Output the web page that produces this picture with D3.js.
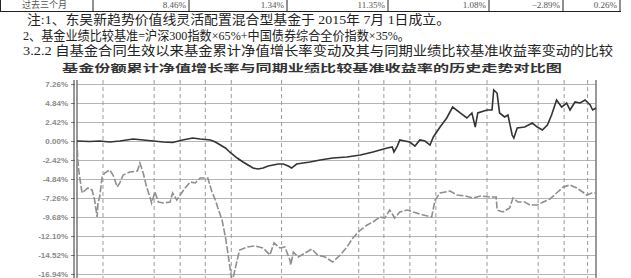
<!DOCTYPE html>
<html>
<head>
<meta charset="utf-8">
<script src="https://cdn.jsdelivr.net/npm/d3@7"></script>
<style>
  body { margin:0; background:#fff; }
  svg { display:block; }
  .note { font-family:"Liberation Serif","Noto Sans CJK SC",serif; fill:#222; }
  .cell { font-family:"Liberation Serif","Noto Sans CJK SC",serif; font-size:9px; fill:#555; }
</style>
</head>
<body>
<div id="chart"></div>
<script>
// table row and notes
var rowLabel = "过去三个月"
var rowValues = ["8.46%", "1.34%", "11.35%", "1.08%", "−2.89%", "0.26%"]
var noteLines = [
  "注:1、东吴新趋势价值线灵活配置混合型基金于 2015年 7月 1日成立。",
  "2、基金业绩比较基准=沪深300指数×65%+中国债券综合全价指数×35%。",
  "3.2.2 自基金合同生效以来基金累计净值增长率变动及其与同期业绩比较基准收益率变动的比较"
]
var title = "基金份额累计净值增长率与同期业绩比较基准收益率的历史走势对比图"

// axis
var yTicks = [7.26, 4.84, 2.42, 0, -2.42, -4.84, -7.26, -9.68, -12.10, -14.52, -16.94]
var gridDates = ["2015-08-01","2015-10-01","2015-11-01","2015-12-01","2016-01-01","2016-03-01",
  "2016-06-01","2016-07-01","2016-08-01","2016-09-01","2016-11-01","2017-01-01","2017-02-01","2017-03-01"]

// fund cumulative NAV growth (%)
var fundDates = ["2015-07-01","2015-07-16","2015-07-28","2015-08-09","2015-08-21","2015-09-06","2015-09-18",
  "2015-09-30","2015-10-12","2015-10-23","2015-11-04","2015-11-16","2015-11-25","2015-12-01","2015-12-07",
  "2015-12-13","2015-12-19","2015-12-25","2015-12-30","2016-01-08","2016-01-15","2016-01-21","2016-01-27",
  "2016-02-02","2016-02-08","2016-02-14","2016-02-20","2016-02-26","2016-03-03","2016-03-09","2016-03-13",
  "2016-03-19","2016-03-27","2016-04-04","2016-04-16","2016-05-01","2016-05-18","2016-06-03","2016-06-18",
  "2016-07-05","2016-07-11","2016-07-13","2016-07-17","2016-07-20","2016-07-26","2016-08-01","2016-08-07",
  "2016-08-13","2016-08-19","2016-08-25","2016-08-29","2016-09-06","2016-09-14","2016-09-21","2016-09-30",
  "2016-10-08","2016-10-14","2016-10-18","2016-10-21","2016-11-01","2016-11-07","2016-11-09","2016-11-13",
  "2016-11-16","2016-11-22","2016-11-26","2016-12-01","2016-12-03","2016-12-07","2016-12-16","2016-12-25",
  "2016-12-31","2017-01-06","2017-01-12","2017-01-17","2017-01-23","2017-01-29","2017-02-04","2017-02-08",
  "2017-02-14","2017-02-20","2017-02-26","2017-03-04","2017-03-07","2017-03-11"]
var fundValues = [0.00,-0.06,0.00,-0.13,0.00,0.25,0.13,
  0.00,-0.13,-0.19,0.13,0.38,0.25,0.19,0.13,
  -0.13,-0.51,-0.89,-1.40,-2.17,-2.67,-3.06,-3.44,
  -3.57,-3.44,-3.18,-3.06,-2.93,-2.93,-3.18,-3.44,
  -2.93,-2.80,-2.67,-2.42,-2.17,-2.04,-1.78,-1.40,
  -0.89,-0.76,-1.40,-0.64,0.13,0.00,-0.13,-0.64,
  0.13,0.00,-0.51,0.51,1.78,2.93,4.33,3.57,
  2.93,3.57,1.78,3.57,3.95,3.95,6.50,6.11,
  3.57,3.06,3.31,0.76,0.38,1.66,1.78,2.29,
  1.78,1.40,2.04,3.31,5.22,4.33,4.84,3.95,
  4.97,4.84,5.22,4.59,3.95,4.20]

// benchmark return (%)
var benchDates = ["2015-07-01","2015-07-02","2015-07-03","2015-07-07","2015-07-11","2015-07-14","2015-07-19",
  "2015-07-22","2015-07-25","2015-07-26","2015-07-28","2015-07-31","2015-08-03","2015-08-09","2015-08-13",
  "2015-08-18","2015-08-21","2015-08-25","2015-09-02","2015-09-11","2015-09-14","2015-09-18","2015-09-22",
  "2015-09-26","2015-09-28","2015-10-02","2015-10-06","2015-10-12","2015-10-20","2015-10-23","2015-10-28",
  "2015-11-01","2015-11-07","2015-11-13","2015-11-19","2015-11-25","2015-12-04","2015-12-09","2015-12-13",
  "2015-12-16","2015-12-21","2015-12-25","2015-12-28","2016-01-01","2016-01-02","2016-01-04","2016-01-08",
  "2016-01-11","2016-01-20","2016-01-29","2016-02-08","2016-02-16","2016-02-21","2016-02-28","2016-03-05",
  "2016-03-11","2016-03-12","2016-03-15","2016-03-21","2016-03-29","2016-04-06","2016-04-13","2016-04-22",
  "2016-05-01","2016-05-10","2016-05-18","2016-05-25","2016-06-03","2016-06-11","2016-06-18","2016-06-26",
  "2016-07-02","2016-07-08","2016-07-14","2016-07-20","2016-07-29","2016-08-05","2016-08-09","2016-08-17",
  "2016-08-27","2016-08-31","2016-09-06","2016-09-18","2016-09-26","2016-10-06","2016-10-15","2016-10-24",
  "2016-11-05","2016-11-12","2016-11-13","2016-11-20","2016-11-28","2016-12-02","2016-12-08","2016-12-16",
  "2016-12-22","2016-12-31","2017-01-07","2017-01-15","2017-01-23","2017-01-31","2017-02-08","2017-02-16",
  "2017-02-23","2017-02-28","2017-03-06","2017-03-11"]
var benchValues = [0.00,-2.42,-3.69,-6.62,-6.24,-5.99,-6.24,
  -7.51,-9.68,-7.90,-7.13,-4.59,-4.08,-3.69,-4.33,
  -5.86,-5.35,-4.33,-3.95,-3.82,-2.80,-4.08,-5.86,
  -7.13,-7.90,-6.50,-7.77,-7.90,-7.77,-6.62,-7.51,
  -6.88,-5.99,-5.22,-5.35,-4.71,-4.71,-6.50,-7.51,
  -8.53,-10.06,-12.23,-14.27,-17.32,-17.60,-17.07,-15.16,
  -13.88,-13.50,-13.37,-13.63,-14.52,-12.99,-13.63,-13.50,
  -15.16,-15.79,-14.14,-14.78,-14.27,-13.76,-14.52,-14.78,
  -15.41,-14.52,-13.50,-12.35,-11.34,-10.70,-10.32,-9.68,
  -9.81,-8.79,-9.81,-9.04,-8.79,-9.04,-9.17,-9.43,
  -9.68,-7.51,-6.62,-6.37,-6.88,-7.01,-7.26,-7.01,
  -7.13,-7.13,-8.79,-9.04,-8.53,-7.26,-7.77,-7.77,
  -8.15,-8.15,-7.77,-7.39,-6.62,-5.86,-5.60,-5.99,
  -6.50,-6.88,-6.62,-6.62]

var width = 631
var height = 278
var parse = d3.timeParse("%Y-%m-%d")

var svg = d3.select("#chart").append("svg")
    .attr("width", width)
    .attr("height", height)

// ---- table row ----
var cellEdges = [93, 189, 287, 388, 489, 563, 620]
svg.append("line").attr("x1", 0).attr("x2", 621).attr("y1", 11.5).attr("y2", 11.5)
    .attr("stroke", "#222").attr("stroke-width", 1.2)
svg.selectAll(".edge").data([0.5].concat(cellEdges)).enter().append("line")
    .attr("x1", d => d).attr("x2", d => d).attr("y1", 0).attr("y2", 11.5)
    .attr("stroke", "#222").attr("stroke-width", 1)
svg.append("text").attr("class", "cell").attr("x", 22).attr("y", 8).text(rowLabel)
svg.selectAll(".val").data(rowValues).enter().append("text")
    .attr("class", "cell")
    .attr("x", (d, i) => cellEdges[i + 1] - 3)
    .attr("y", 8)
    .attr("text-anchor", "end")
    .text(d => d)

// ---- notes ----
var noteY = [24, 40, 55]
var noteX = [27, 23, 23]
var noteW = [423, 387, 590]
svg.selectAll(".note").data(noteLines).enter().append("text")
    .attr("class", "note")
    .attr("x", (d, i) => noteX[i])
    .attr("y", (d, i) => noteY[i])
    .attr("font-size", 13)
    .attr("textLength", (d, i) => noteW[i])
    .attr("lengthAdjust", "spacingAndGlyphs")
    .text(d => d)

// ---- chart ----
var margin = {left: 77, right: 596, top: 84, bottom: 274}

var xScale = d3.scaleTime()
    .domain([parse("2015-07-01"), parse("2017-03-11")])
    .range([margin.left, margin.right])

var yScale = d3.scaleLinear()
    .domain([-16.94, 7.26])
    .range([margin.bottom, margin.top])

svg.append("text")
    .attr("x", 62)
    .attr("y", 72)
    .attr("font-family", "Noto Sans CJK SC")
    .attr("font-weight", "bold")
    .attr("font-size", 10.5)
    .attr("fill", "#333")
    .attr("textLength", 500)
    .attr("lengthAdjust", "spacingAndGlyphs")
    .text(title)

var yAxis = d3.axisLeft(yScale)
    .tickValues(yTicks)
    .tickSize(-(margin.right - margin.left))
    .tickPadding(9)
    .tickFormat(d => d.toFixed(2) + "%")

var yAxisG = svg.append("g")
    .attr("transform", `translate(${margin.left},0)`)
    .call(yAxis)
yAxisG.select(".domain").remove()
yAxisG.selectAll("line").attr("stroke", "#b5b5b5").attr("stroke-width", 1)
yAxisG.selectAll("text")
    .attr("font-family", "Liberation Sans, sans-serif")
    .attr("font-size", 8)
    .attr("font-weight", "bold")
    .attr("fill", "#8a8a8a")

// little outer ticks
var tickG = svg.append("g")
    .attr("transform", `translate(${margin.left - 2},0)`)
    .call(d3.axisLeft(yScale).tickValues(yTicks).tickSize(4).tickFormat(""))
tickG.select(".domain").remove()
tickG.selectAll("line").attr("stroke", "#777")

// vertical dashed grid
svg.selectAll(".vgrid").data(gridDates).enter().append("line")
    .attr("x1", d => xScale(parse(d)))
    .attr("x2", d => xScale(parse(d)))
    .attr("y1", 80)
    .attr("y2", height)
    .attr("stroke", "#9a9a9a")
    .attr("stroke-width", 1)
    .attr("stroke-dasharray", "4,3")

// left double axis, right border
svg.append("line").attr("x1", 74).attr("x2", 74).attr("y1", 80).attr("y2", height)
    .attr("stroke", "#555").attr("stroke-width", 1.2)
svg.append("line").attr("x1", 77).attr("x2", 77).attr("y1", 80).attr("y2", height)
    .attr("stroke", "#555").attr("stroke-width", 1.2)
svg.append("line").attr("x1", margin.right).attr("x2", margin.right).attr("y1", 80).attr("y2", height)
    .attr("stroke", "#777").attr("stroke-width", 1.5)

var lineGen = d3.line()
    .x(d => xScale(d.date))
    .y(d => yScale(d.value))

var fund = fundDates.map((d, i) => ({date: parse(d), value: fundValues[i]}))
var bench = benchDates.map((d, i) => ({date: parse(d), value: benchValues[i]}))

svg.append("path")
    .attr("d", lineGen(bench))
    .attr("fill", "none")
    .attr("stroke", "#8f8f8f")
    .attr("stroke-width", 1.6)
    .attr("stroke-dasharray", "7,2")

svg.append("path")
    .attr("d", lineGen(fund))
    .attr("fill", "none")
    .attr("stroke", "#333")
    .attr("stroke-width", 1.6)
</script>
</body>
</html>
